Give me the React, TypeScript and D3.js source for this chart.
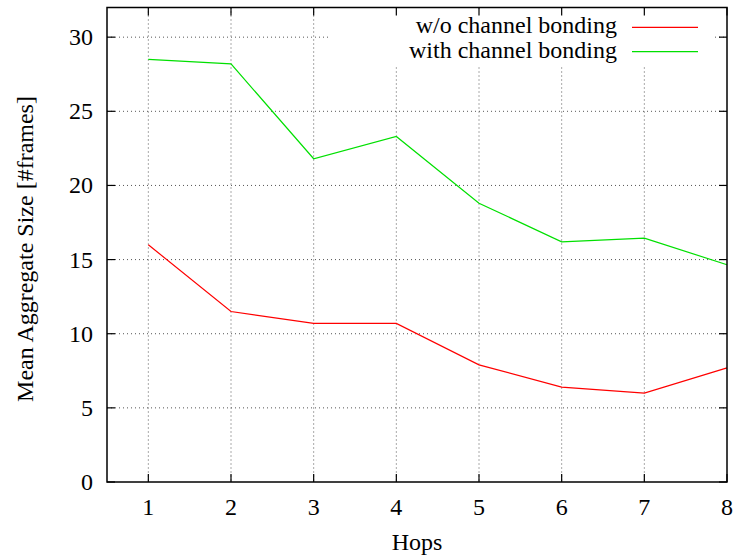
import React from "react";
import * as d3 from "d3";

const hops = [1, 2, 3, 4, 5, 6, 7, 8];
const withoutBonding = [16.0, 11.5, 10.7, 10.7, 7.9, 6.4, 6.0, 7.7];
const withBonding = [28.5, 28.2, 21.8, 23.3, 18.8, 16.2, 16.45, 14.65];
const yTicks = [0, 5, 10, 15, 20, 25, 30];
const seriesNames = ["w/o channel bonding", "with channel bonding"];
const seriesColors = ["#ff0000", "#00e000"];

export default function App() {
  const W = 735, H = 560;
  const L = 107, R = 727, T = 7.5, B = 482;
  const x = d3.scaleLinear().domain([0.5, 8]).range([L, R]);
  const y = d3.scaleLinear().domain([0, 32]).range([B, T]);
  const line = d3.line<number>().x((_, i) => x(hops[i])).y((d) => y(d));
  const font = "'Liberation Serif', 'Times New Roman', serif";
  const tick = 8;
  const legend = { x1: 330, x2: 712, y1: 9, y2: 65 };
  return (
    <svg width={W} height={H} style={{ position: "absolute", left: 0, top: 0 }} fontFamily={font}>
      <rect width={W} height={H} fill="#fff" />
      {/* grid */}
      <g stroke="#555" strokeWidth={1} strokeDasharray="1,3">
        {hops.slice(0, -1).map((h) => (
          <line key={"vx" + h} x1={x(h)} x2={x(h)} y1={T} y2={B} />
        ))}
        {yTicks.slice(1).map((t) => (
          <line key={"hy" + t} x1={L} x2={R} y1={y(t)} y2={y(t)} />
        ))}
      </g>
      {/* legend background */}
      <rect x={legend.x1} y={legend.y1} width={legend.x2 - legend.x1} height={legend.y2 - legend.y1} fill="#fff" />
      {/* ticks */}
      <g stroke="#000" strokeWidth={1.2}>
        {hops.map((h) => (
          <g key={"tx" + h}>
            <line x1={x(h)} x2={x(h)} y1={B} y2={B - tick} />
            <line x1={x(h)} x2={x(h)} y1={T} y2={T + tick} />
          </g>
        ))}
        {yTicks.map((t) => (
          <g key={"ty" + t}>
            <line x1={L} x2={L + tick} y1={y(t)} y2={y(t)} />
            <line x1={R} x2={R - tick} y1={y(t)} y2={y(t)} />
          </g>
        ))}
      </g>
      {/* series */}
      <path d={line(withoutBonding) || ""} fill="none" stroke={seriesColors[0]} strokeWidth={1.2} />
      <path d={line(withBonding) || ""} fill="none" stroke={seriesColors[1]} strokeWidth={1.2} />
      {/* frame */}
      <rect x={L} y={T} width={R - L} height={B - T} fill="none" stroke="#000" strokeWidth={1.5} />
      {/* tick labels */}
      <g fontSize={24} fill="#000">
        {yTicks.map((t) => (
          <text key={"ly" + t} x={93} y={y(t) + 8} textAnchor="end">{t}</text>
        ))}
        {hops.map((h) => (
          <text key={"lx" + h} x={x(h)} y={515} textAnchor="middle">{h}</text>
        ))}
        <text x={(L + R) / 2} y={550} textAnchor="middle">Hops</text>
        <text transform={`translate(33,${249}) rotate(-90)`} textAnchor="middle">Mean Aggregate Size [#frames]</text>
      </g>
      {/* legend */}
      <g fontSize={24}>
        {seriesNames.map((n, i) => (
          <g key={n}>
            <text x={617} y={33 + i * 24.5} textAnchor="end">{n}</text>
            <line x1={632} x2={698} y1={27.3 + i * 24.4} y2={27.3 + i * 24.4} stroke={seriesColors[i]} strokeWidth={1.2} />
          </g>
        ))}
      </g>
    </svg>
  );
}
